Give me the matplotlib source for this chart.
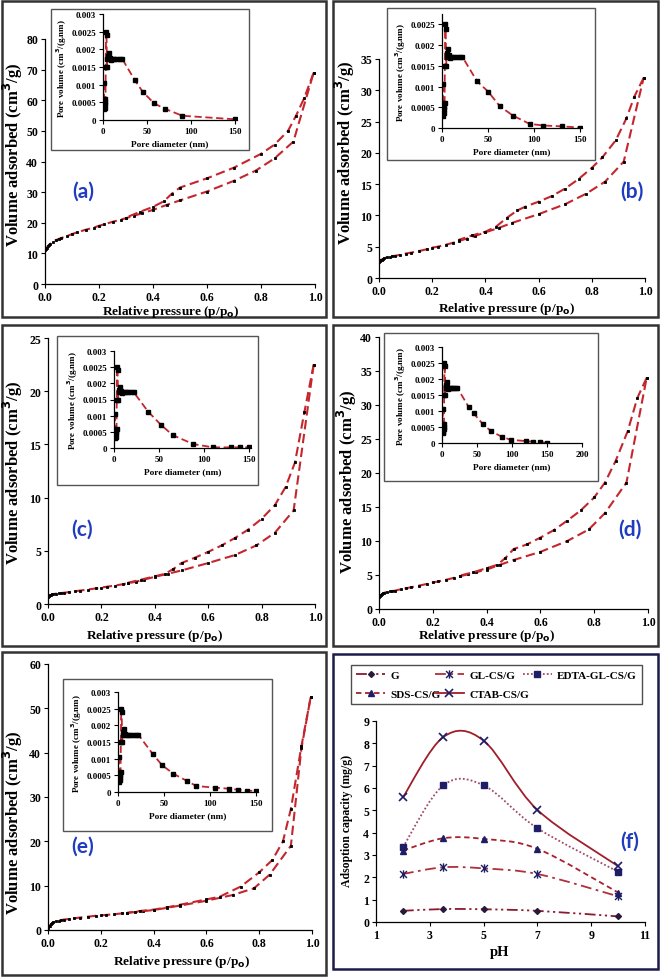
import matplotlib
matplotlib.use('Agg')
import matplotlib.pyplot as plt
from matplotlib.path import Path
from matplotlib.patches import PathPatch, Rectangle
from matplotlib.lines import Line2D
from matplotlib.ticker import FuncFormatter

plt.rcParams['font.family'] = ['Liberation Serif', 'DejaVu Serif']
plt.rcParams['font.weight'] = 'bold'

# --------------------------------------------------------------------------------
# N2 ISOTHERMS (relative pressure vs volume adsorbed)
# --------------------------------------------------------------------------------
a_ads_p = [0.0, 0.003, 0.006, 0.01, 0.015, 0.02, 0.03, 0.04, 0.05, 0.06, 0.08, 0.1, 0.12, 0.15, 0.18, 0.2, 0.22, 0.25, 0.28, 0.3, 0.33, 0.36, 0.4, 0.45, 0.5, 0.6, 0.7, 0.78, 0.85, 0.92, 0.995]
a_ads_v = [11, 11.3, 11.8, 12.3, 12.8, 13.2, 13.8, 14.3, 14.7, 15.0, 15.6, 16.3, 16.9, 17.7, 18.4, 19.0, 19.5, 20.3, 21.0, 21.5, 22.3, 23.1, 24.2, 25.8, 27.3, 30.2, 33.7, 37.0, 41.0, 46.5, 69]
a_des_p = [0.995, 0.96, 0.93, 0.9, 0.85, 0.8, 0.7, 0.6, 0.5, 0.47, 0.44, 0.4, 0.35, 0.3]
a_des_v = [69, 60.7, 55, 50, 45.5, 42.5, 38, 34.5, 31.5, 29.5, 27, 25.2, 23.5, 21.7]

b_ads_p = a_ads_p
b_ads_v = [2.5, 2.7, 2.85, 2.95, 3.05, 3.15, 3.3, 3.4, 3.5, 3.55, 3.7, 3.9, 4.05, 4.3, 4.6, 4.85, 5.0, 5.3, 5.65, 5.9, 6.3, 6.7, 7.3, 8.0, 8.8, 10.2, 11.8, 13.5, 15.4, 18.6, 32]
b_des_p = [0.995, 0.96, 0.93, 0.89, 0.84, 0.8, 0.75, 0.7, 0.65, 0.6, 0.55, 0.52, 0.48, 0.44, 0.4, 0.35, 0.3]
b_des_v = [32, 29, 25.5, 22, 19.3, 17.6, 15.8, 14.3, 13.1, 12.2, 11.4, 10.8, 9.6, 8.2, 7.4, 6.8, 6.1]

c_ads_p = a_ads_p
c_ads_v = [0.7, 0.75, 0.8, 0.85, 0.9, 0.93, 0.97, 1.0, 1.03, 1.06, 1.12, 1.2, 1.26, 1.36, 1.47, 1.55, 1.62, 1.73, 1.86, 1.95, 2.1, 2.3, 2.55, 2.85, 3.15, 3.85, 4.6, 5.5, 6.7, 8.8, 22.5]
c_des_p = [0.995, 0.96, 0.925, 0.89, 0.85, 0.8, 0.75, 0.7, 0.65, 0.6, 0.55, 0.5, 0.47, 0.44, 0.4, 0.35, 0.3]
c_des_v = [22.5, 18, 13.3, 11, 9.3, 8.0, 7.0, 6.2, 5.5, 4.9, 4.35, 3.85, 3.3, 2.85, 2.6, 2.3, 2.0]

d_ads_p = [0.0, 0.003, 0.006, 0.01, 0.015, 0.02, 0.03, 0.04, 0.05, 0.06, 0.08, 0.1, 0.12, 0.15, 0.18, 0.2, 0.22, 0.25, 0.28, 0.3, 0.33, 0.36, 0.4, 0.45, 0.5, 0.6, 0.7, 0.78, 0.84, 0.92, 0.995]
d_ads_v = [1.7, 1.85, 2.0, 2.15, 2.3, 2.4, 2.5, 2.6, 2.65, 2.7, 2.9, 3.05, 3.2, 3.45, 3.7, 3.9, 4.05, 4.3, 4.6, 4.8, 5.1, 5.4, 5.8, 6.5, 7.2, 8.4, 10.0, 11.7, 14.1, 18.6, 34]
d_des_p = [0.995, 0.96, 0.925, 0.88, 0.84, 0.8, 0.75, 0.7, 0.65, 0.6, 0.55, 0.5, 0.47, 0.44, 0.4, 0.35, 0.3]
d_des_v = [34, 31, 26.2, 21.8, 18.6, 16.4, 14.5, 13, 11.6, 10.5, 9.5, 8.8, 7.5, 6.5, 6.0, 5.4, 4.9]

e_ads_p = [0.0, 0.003, 0.006, 0.01, 0.015, 0.02, 0.03, 0.04, 0.05, 0.06, 0.08, 0.1, 0.12, 0.15, 0.18, 0.2, 0.22, 0.25, 0.28, 0.3, 0.33, 0.36, 0.4, 0.45, 0.5, 0.6, 0.7, 0.78, 0.84, 0.92, 0.96, 0.995]
e_ads_v = [0.5, 0.8, 1.0, 1.25, 1.5, 1.7, 1.95, 2.1, 2.25, 2.35, 2.5, 2.65, 2.8, 3.0, 3.2, 3.3, 3.4, 3.55, 3.75, 3.85, 4.05, 4.25, 4.5, 5.0, 5.5, 6.6, 7.9, 9.4, 12.5, 19, 41, 52.5]
e_des_p = [0.995, 0.96, 0.92, 0.89, 0.85, 0.8, 0.73, 0.65, 0.6, 0.5, 0.45, 0.4, 0.35, 0.3]
e_des_v = [52.5, 41.5, 27.3, 20, 15.8, 13, 9.8, 7.5, 6.9, 5.7, 5.1, 4.6, 4.3, 3.9]

# --------------------------------------------------------------------------------
# PORE SIZE DISTRIBUTION (insets)
# --------------------------------------------------------------------------------
pore_d_head = [1.0, 1.3, 1.6, 1.9, 2.2, 2.5, 2.8, 3.1, 3.5, 4.0, 4.5, 5.0, 5.5, 6.5, 7.5, 9, 11, 13, 16, 19, 22]
pore_v_head = [0.00105, 0.0006, 0.0003, 0.00035, 0.00045, 0.0005, 0.0006, 0.0015, 0.0025, 0.0024, 0.0015,
               0.00172, 0.0018, 0.0019, 0.00175, 0.0017, 0.00172, 0.00172, 0.00172, 0.00172, 0.00172]
a_pore_d = [36, 45, 58, 70, 90, 150]
a_pore_v = [0.00113, 0.0008, 0.00047, 0.00032, 0.00012, 0.00002]
b_pore_d = [38, 50, 63, 77, 95, 110, 130, 150]
b_pore_v = [0.00113, 0.00088, 0.00052, 0.0003, 0.0001, 0.00006, 0.00004, 0.00001]
c_pore_d = [38, 52, 65, 88, 110, 130, 140, 150]
c_pore_v = [0.00112, 0.00072, 0.0004, 0.00012, 0.00002, 0.00002, 0.00002, 0.00002]
d_pore_d = [38, 45, 58, 70, 85, 98, 120, 130, 140, 150]
d_pore_v = [0.00113, 0.00093, 0.0006, 0.00037, 0.0002, 0.0001, 0.00006, 0.00004, 0.00002, 0.00001]
e_pore_d = [38, 48, 60, 75, 85, 105, 120, 130, 140, 150]
e_pore_v = [0.00113, 0.0008, 0.00055, 0.00033, 0.00018, 0.00013, 0.0001, 0.00007, 0.00004, 0.00003]

# --------------------------------------------------------------------------------
# ADSORPTION CAPACITY vs pH
# --------------------------------------------------------------------------------
ph = [2, 3.5, 5, 7, 10]
cap_g = [0.5, 0.58, 0.57, 0.5, 0.25]
cap_gl = [2.15, 2.45, 2.4, 2.15, 1.15]
cap_edta = [3.35, 6.12, 6.12, 4.2, 2.25]
cap_sds = [3.2, 3.75, 3.72, 3.28, 1.32]
cap_ctab = [5.58, 8.28, 8.12, 5.02, 2.5]
f_labels = ['G', 'GL-CS/G', 'EDTA-GL-CS/G', 'SDS-CS/G', 'CTAB-CS/G']

W, H = 661, 978
fig = plt.figure(figsize=(W / 100, H / 100), dpi=100)

RED = '#c4262e'
TAG = '#1f3cc0'
XLAB = 'Relative pressure (p/p$_\\mathbf{o}$)'
YLAB = 'Volume adsorbed (cm$^\\mathbf{3}$/g)'


def px_axes(left, right, top, bottom):
    return fig.add_axes([left / W, 1 - bottom / H, (right - left) / W, (bottom - top) / H])


def ftext(x, y, s, **kw):
    fig.text(x / W, 1 - y / H, s, ha='center', va='center', fontweight='bold', **kw)


def frame(x0, y0, x1, y1, color='#333333', lw=1.8, fc='none', z=0):
    fig.add_artist(Rectangle((x0 / W, 1 - y1 / H), (x1 - x0) / W, (y1 - y0) / H,
                             transform=fig.transFigure, fc=fc, ec=color, lw=lw, zorder=z))


def style(ax, fs):
    ax.spines['top'].set_visible(False)
    ax.spines['right'].set_visible(False)
    for s in ('left', 'bottom'):
        ax.spines[s].set_linewidth(0.9)
    ax.tick_params(direction='out', length=3, width=0.8, labelsize=fs, pad=2)
    for t in ax.get_xticklabels() + ax.get_yticklabels():
        t.set_fontweight('bold')
    ax.patch.set_alpha(0)


def isotherm(main_px, ylim, ystep, ads_p, ads_v, des_p, des_v, xlab_xy, ylab_xy):
    ax = px_axes(*main_px)
    for p, v in ((ads_p, ads_v), (des_p, des_v)):
        ax.plot(p, v, ls=(0, (4.5, 2.2)), color=RED, lw=1.5, marker='s', ms=1.7, mfc='k', mec='k', mew=0.6)
    ax.set_xlim(0, 1.0)
    ax.set_ylim(0, ylim)
    ax.set_xticks([0, 0.2, 0.4, 0.6, 0.8, 1.0])
    ax.set_yticks(range(0, ylim + 1, ystep))
    ax.xaxis.set_major_formatter(FuncFormatter(lambda v, p: '%.1f' % v))
    style(ax, 8.5)
    ftext(*xlab_xy, XLAB, fontsize=9.5)
    ftext(*ylab_xy, YLAB, fontsize=12, rotation=90)
    return ax


def inset(box_px, ax_px, xmax, xticks, ymax, yticks, pore_d, pore_v):
    frame(*box_px, color='#555555', lw=1.0, fc='white', z=2)
    ax = px_axes(*ax_px)
    ax.set_zorder(3)
    ax.plot(pore_d_head + pore_d, pore_v_head + pore_v, ls=(0, (4, 2)), color=RED, lw=1.3,
            marker='s', ms=2.2, mfc='k', mec='k')
    ax.set_xlim(0, xmax)
    ax.set_ylim(0, ymax)
    ax.set_xticks(xticks)
    ax.set_yticks(yticks)
    ax.yaxis.set_major_formatter(FuncFormatter(lambda v, p: '%g' % round(v, 5)))
    style(ax, 6.5)
    ax.set_xlabel('Pore diameter (nm)', fontsize=6.7, fontweight='bold', labelpad=3)
    ax.set_ylabel('Pore volume (cm$^\\mathbf{3}$/(g.nm)', fontsize=6.5, fontweight='bold', labelpad=2)


def tag(x, y, s):
    ftext(x, y, s, fontsize=15, color=TAG, family='Lato', zorder=5)


yt3 = [0, 0.0005, 0.001, 0.0015, 0.002, 0.0025, 0.003]

# (a)
frame(2, 2, 326, 318)
isotherm((45, 315, 40, 285), 80, 10, a_ads_p, a_ads_v, a_des_p, a_des_v, (171, 312), (13, 155))
inset((51, 10, 249, 151), (103, 237, 15, 121), 152, [0, 50, 100, 150], 0.003, yt3, a_pore_d, a_pore_v)
tag(83, 192, '(a)')

# (b)
frame(333, 2, 658, 318)
isotherm((379, 645, 60, 279), 35, 5, b_ads_p, b_ads_v, b_des_p, b_des_v, (507, 309), (345, 153))
inset((387, 9, 595, 161), (442, 582, 15, 129), 152, [0, 50, 100, 150], 0.00275, yt3[:-1], b_pore_d, b_pore_v)
tag(632, 192, '(b)')

# (c)
frame(2, 326, 326, 647)
isotherm((48, 315, 339, 605), 25, 5, c_ads_p, c_ads_v, c_des_p, c_des_v, (155, 636), (13, 473))
inset((57, 337, 258, 486), (114, 251, 352, 449), 152, [0, 50, 100, 150], 0.003, yt3, c_pore_d, c_pore_v)
tag(82, 530, '(c)')

# (d)
frame(333, 326, 658, 647)
isotherm((379, 648, 338, 610), 40, 5, d_ads_p, d_ads_v, d_des_p, d_des_v, (487, 636), (347, 482))
inset((384, 334, 598, 482), (442, 582, 348, 444), 200, [0, 50, 100, 150, 200], 0.003, yt3, d_pore_d, d_pore_v)
tag(630, 530, '(d)')

# (e)
frame(2, 653, 326, 976)
isotherm((48, 312, 665, 931), 60, 10, e_ads_p, e_ads_v, e_des_p, e_des_v, (182, 962), (13, 823))
inset((63, 680, 272, 832), (118, 258, 693, 793), 152, [0, 50, 100, 150], 0.003, yt3, e_pore_d, e_pore_v)
tag(83, 847, '(e)')

# (f)
frame(333, 655, 658, 970, color='#1c1c4c')
axf = px_axes(376, 645, 722, 923)


def smooth(x, y):
    # Excel-like smoothed line: Catmull-Rom segments as cubic Beziers
    pts = list(zip(x, y))
    verts = [pts[0]]
    codes = [Path.MOVETO]
    n = len(pts)
    for i in range(n - 1):
        p0 = pts[i - 1] if i > 0 else pts[i]
        p1, p2 = pts[i], pts[i + 1]
        p3 = pts[i + 2] if i + 2 < n else pts[i + 1]
        c1 = (p1[0] + (p2[0] - p0[0]) / 6, p1[1] + (p2[1] - p0[1]) / 6)
        c2 = (p2[0] - (p3[0] - p1[0]) / 6, p2[1] - (p3[1] - p1[1]) / 6)
        verts += [c1, c2, p2]
        codes += [Path.CURVE4] * 3
    return Path(verts, codes)


star = Path([(-1, -1), (1, 1), (-1, 1), (1, -1), (0, -1.2), (0, 1.2)],
            [Path.MOVETO, Path.LINETO, Path.MOVETO, Path.LINETO, Path.MOVETO, Path.LINETO])
NAVY = '#1e1e66'
f_styles = [
    dict(color='#8b1a2e', ls=(0, (6, 2, 1.2, 2, 1.2, 2)), marker='D', ms=3, mfc='#2a1a3a', mec='#2a1a3a'),
    dict(color='#b0303a', ls=(0, (6, 2.5, 1.5, 2.5)), marker=star, ms=6, mfc='none', mec=NAVY, mew=1.0),
    dict(color='#a04a6a', ls=(0, (1, 1.2)), marker='s', ms=4, mfc=NAVY, mec=NAVY),
    dict(color='#a8202c', ls=(0, (3, 2)), marker='^', ms=4.5, mfc=NAVY, mec=NAVY),
    dict(color='#a01e2a', ls='-', marker='x', ms=6, mfc=NAVY, mec=NAVY, mew=1.2),
]
handles = []
for vals, st, lab in zip([cap_g, cap_gl, cap_edta, cap_sds, cap_ctab], f_styles, f_labels):
    axf.add_patch(PathPatch(smooth(ph, vals), fill=False, ec=st['color'], ls=st['ls'], lw=1.3))
    axf.plot(ph, vals, ls='none', marker=st['marker'], ms=st['ms'], mfc=st['mfc'], mec=st['mec'],
             mew=st.get('mew', 1.0))
    handles.append(Line2D([], [], color=st['color'], ls=st['ls'], lw=1.3, marker=st['marker'],
                          ms=st['ms'], mfc=st['mfc'], mec=st['mec'], mew=st.get('mew', 1.0), label=lab))

axf.set_xlim(1, 11)
axf.set_ylim(0, 9)
axf.set_xticks([1, 3, 5, 7, 9, 11])
axf.set_yticks(range(0, 10))
style(axf, 8.5)
ftext(500, 953, 'pH', fontsize=10.5)
ftext(347, 821, 'Adsoption capacity (mg/g)', fontsize=8.5, rotation=90)
# reorder so the legend reads row by row
order = [0, 3, 1, 4, 2]
leg = axf.legend(handles=[handles[i] for i in order], ncol=3, loc='lower left', mode='expand',
                 bbox_to_anchor=(345 / W, 1 - 711 / H, 303 / W, 45 / H), bbox_transform=fig.transFigure,
                 frameon=True, fancybox=False, edgecolor='#222222', handlelength=2.6,
                 handletextpad=0.5, borderpad=0.5, labelspacing=0.8, columnspacing=0.5,
                 prop={'weight': 'bold', 'size': 8})
leg.get_frame().set_linewidth(1.0)
ftext(630, 842, '(f)', fontsize=15, color=TAG, family='Lato')

fig.savefig('out.png', dpi=100)
